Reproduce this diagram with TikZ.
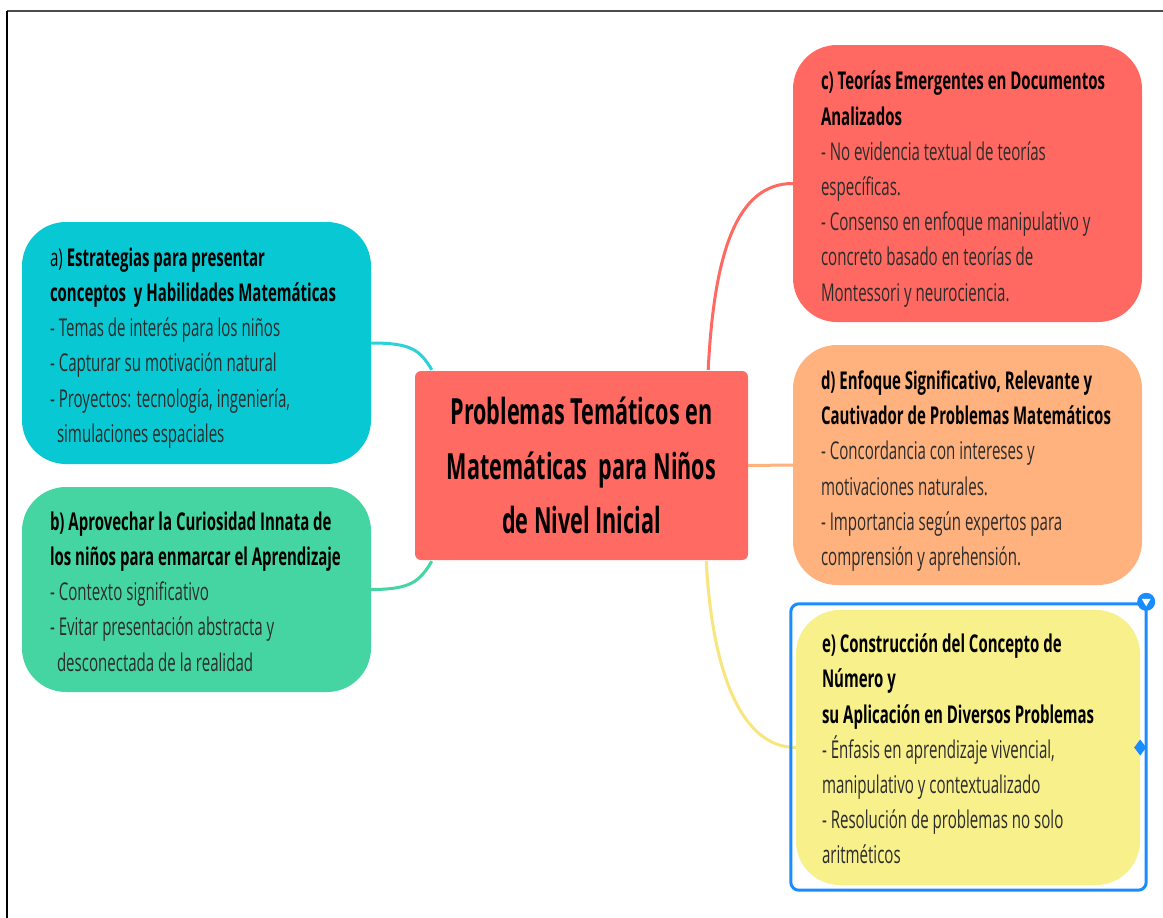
\documentclass[tikz,border=0pt]{standalone}
\usepackage{fontspec}
\setmainfont{Open Sans}[FakeStretch=0.615]
\newfontfamily\hdfont{Open Sans}[FakeStretch=0.612]
\newfontfamily\titlefont{Open Sans}[FakeStretch=0.6]
\usetikzlibrary{calc}
\definecolor{cenred}{HTML}{FF6A62}
\definecolor{cyanA}{HTML}{08C9D3}
\definecolor{greenB}{HTML}{45D5A3}
\definecolor{redC}{HTML}{FF6961}
\definecolor{orangeD}{HTML}{FFB27D}
\definecolor{yellowE}{HTML}{F7F08B}
\definecolor{selblue}{HTML}{1A8CFF}
\definecolor{bodytxt}{HTML}{2B2B2B}
\newcommand{\hd}[1]{\textcolor{black}{\hdfont\bfseries #1}}
\tikzset{
  topicbox/.style={rounded corners=44pt, inner sep=0pt},
  topictext/.style={anchor=west, inner sep=0pt, align=left, text=bodytxt,
    font=\fontsize{24.5}{35.2}\selectfont},
  conn/.style={line width=3pt},
}
\begin{document}
\begin{tikzpicture}[x=1pt,y=-1pt]
\useasboundingbox (0,0) rectangle (1163,918);
\fill[white] (0,0) rectangle (1163,918);
% frame
\coordinate (ftl) at (7,11);
\coordinate (ftr) at (1163,11);
\coordinate (fbl) at (7,918);
\draw[line width=1.3pt, black!70] (ftl) -- (ftr);
\draw[line width=1.5pt, black] (ftl) -- (fbl);

% boxes
\node[fill=cenred, rounded corners=6pt, minimum width=333pt, minimum height=189pt,
  align=center, text=black, font=\titlefont\bfseries\fontsize{36}{54.5}\selectfont, inner sep=0pt]
  (cen) at (581.5,465.5) {Problemas Temáticos en\\Matemáticas\ \ para Niños\\de Nivel Inicial};
\node[topicbox, fill=cyanA,   minimum width=349pt, minimum height=242pt] (a) at (196.5,343) {};
\node[topicbox, fill=greenB,  minimum width=349pt, minimum height=205pt] (b) at (196.5,589.5) {};
\node[topicbox, fill=redC,    minimum width=349pt, minimum height=277pt] (c) at (967.5,183.5) {};
\node[topicbox, fill=orangeD, minimum width=349pt, minimum height=240pt] (d) at (967.5,465) {};
\node[topicbox, fill=yellowE, minimum width=344pt, minimum height=275pt] (e) at (968,747.5) {};

% texts
\node[topictext] (atext) at ($(a.west)+(28,5)$)
  {\textcolor{black}{a)} \hd{Estrategias para presentar}\\
   \hd{conceptos\ \ y Habilidades Matemáticas}\\
   - Temas de interés para los niños\\
   - Capturar su motivación natural\\
   - Proyectos: tecnología, ingeniería,\\
   \hspace*{7pt}simulaciones espaciales};
\node[topictext] (btext) at ($(b.west)+(28,2)$)
  {\hd{b) Aprovechar la Curiosidad Innata de}\\
   \hd{los niños para enmarcar el Aprendizaje}\\
   - Contexto significativo\\
   - Evitar presentación abstracta y\\
   \hspace*{7pt}desconectada de la realidad};
\node[topictext] (ctext) at ($(c.west)+(28,5.5)$)
  {\hd{c) Teorías Emergentes en Documentos}\\
   \hd{Analizados}\\
   - No evidencia textual de teorías\\
   específicas.\\
   - Consenso en enfoque manipulativo y\\
   concreto basado en teorías de\\
   Montessori y neurociencia.};
\node[topictext] (dtext) at ($(d.west)+(28,6)$)
  {\hd{d) Enfoque Significativo, Relevante y}\\
   \hd{Cautivador de Problemas Matemáticos}\\
   - Concordancia con intereses y\\
   motivaciones naturales.\\
   - Importancia según expertos para\\
   comprensión y aprehensión.};
\node[topictext] (etext) at ($(e.west)+(26,1.5)$)
  {\hd{e) Construcción del Concepto de}\\
   \hd{Número y}\\
   \hd{su Aplicación en Diversos Problemas}\\
   - Énfasis en aprendizaje vivencial,\\
   manipulativo y contextualizado\\
   - Resolución de problemas no solo\\
   aritméticos};

% connectors
\coordinate (aend) at ($(cen.north west)+(17,-1)$);
\coordinate (bend) at ($(cen.south west)+(17,1)$);
\coordinate (cstart) at ($(cen.north east)+(-40,-1)$);
\coordinate (estart) at ($(cen.south east)+(-42,1)$);
\draw[conn, cyanA!85!white] (a.east) .. controls +(40,0) and +(-12,-20) .. (aend);
\draw[conn, greenB] (b.east) .. controls +(40,0) and +(-12,20) .. (bend);
\draw[conn, redC] (cstart) .. controls +(6,-120) and +(-55,0) .. (c.west);
\draw[conn, orangeD] (cen.east) -- (d.west);
\draw[conn, yellowE!90!orange] (estart) .. controls +(6,110) and +(-55,0) .. (e.west);

% selection frame around e
\coordinate (s1) at ($(e.north west)+(-5,-6)$);
\coordinate (s2) at ($(e.south east)+(6,5)$);
\draw[selblue, line width=3pt, rounded corners=8pt] (s1) rectangle (s2);
\node[circle, fill=selblue, minimum size=18pt, inner sep=0pt] (handle) at ($(e.north east)+(6,-8)$) {};
\fill[white] ($(handle.center)+(-4.5,-3)$) -- ($(handle.center)+(4.5,-3)$) -- ($(handle.center)+(0,4.5)$) -- cycle;
\coordinate (dm) at ($(e.east)+(0,0)$);
\fill[selblue] ($(dm)+(-6,0)$) -- ($(dm)+(0,-8)$) -- ($(dm)+(6,0)$) -- ($(dm)+(0,8)$) -- cycle;
\end{tikzpicture}
\end{document}
